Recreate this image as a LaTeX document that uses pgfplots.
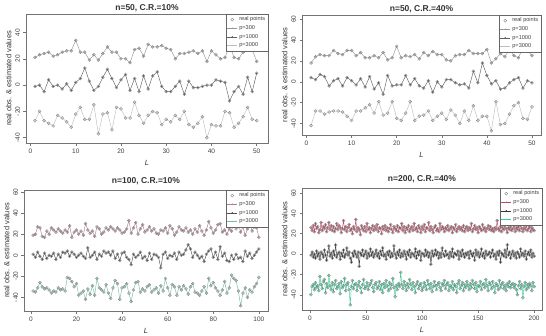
\documentclass[border=0pt]{standalone}
\usepackage{pgfplots}
\usepackage{pgfplotstable}
\pgfplotsset{compat=1.18}
\usepackage{fontspec}
\setmainfont{Liberation Sans}
\definecolor{pt}{RGB}{125,125,125}
\definecolor{gA}{RGB}{150,150,150}
\definecolor{gB}{RGB}{95,95,95}
\definecolor{gC}{RGB}{190,190,190}
\definecolor{cA}{RGB}{175,125,140}
\definecolor{cB}{RGB}{80,80,80}
\definecolor{cC}{RGB}{125,185,160}
\definecolor{dA}{RGB}{195,75,105}
\definecolor{dB}{RGB}{55,55,55}
\definecolor{dC}{RGB}{60,205,150}

% ---------- panel 1: n=50, C.R.=10% ----------
\pgfplotstableread[row sep=\\]{y\\21\\23\\24\\25\\22\\23\\25\\26\\26\\34\\25\\25\\19\\23\\19\\24\\29\\25\\25\\20\\20\\17\\27\\28\\22\\31\\29\\29\\30\\28\\27\\20\\24\\24\\25\\26\\24\\26\\18\\26\\23\\20\\21\\30\\21\\20\\25\\30\\27\\18\\}\pAa
\pgfplotstableread[row sep=\\]{y\\-1\\0\\-5\\4\\-1\\0\\-3\\1\\-4\\2\\5\\13\\3\\-4\\-1\\6\\12\\5\\-2\\4\\8\\-4\\5\\-5\\7\\-3\\7\\10\\-1\\-5\\-5\\-1\\3\\-7\\3\\-2\\-2\\-1\\0\\0\\4\\3\\2\\-12\\-5\\-1\\-7\\6\\-5\\9\\}\pAb
\pgfplotstableread[row sep=\\]{y\\-27\\-20\\-27\\-29\\-31\\-23\\-25\\-28\\-32\\-22\\-17\\-26\\-26\\-15\\-37\\-22\\-21\\-34\\-17\\-18\\-25\\-25\\-13\\-23\\-29\\-23\\-20\\-21\\-30\\-26\\-28\\-23\\-26\\-20\\-30\\-32\\-29\\-24\\-40\\-30\\-31\\-31\\-20\\-21\\-32\\-29\\-24\\-17\\-26\\-27\\}\pAc
% ---------- panel 2: n=50, C.R.=40% ----------
\pgfplotstableread[row sep=\\]{y\\18\\24\\26\\25\\25\\30\\27\\26\\30\\30\\25\\28\\23\\23\\25\\23\\28\\21\\23\\34\\23\\25\\24\\26\\22\\28\\25\\29\\26\\26\\21\\20\\25\\26\\26\\30\\27\\27\\27\\31\\18\\22\\27\\24\\31\\25\\23\\33\\30\\25\\}\pBa
\pgfplotstableread[row sep=\\]{y\\4\\2\\7\\5\\-4\\1\\3\\-4\\4\\1\\-3\\3\\-5\\5\\-7\\-1\\-12\\6\\-4\\-3\\-3\\6\\-3\\3\\-4\\-6\\1\\-10\\0\\-5\\2\\2\\-1\\-3\\-2\\-6\\10\\-1\\18\\6\\-2\\1\\-7\\-6\\-1\\2\\4\\-6\\1\\-1\\}\pBb
\pgfplotstableread[row sep=\\]{y\\-42\\-28\\-28\\-31\\-29\\-28\\-28\\-29\\-33\\-37\\-28\\-28\\-25\\-22\\-30\\-19\\-32\\-30\\-19\\-35\\-37\\-30\\-19\\-37\\-33\\-32\\-28\\-37\\-33\\-30\\-36\\-27\\-32\\-40\\-28\\-37\\-23\\-37\\-33\\-33\\-47\\-19\\-41\\-40\\-31\\-23\\-20\\-35\\-36\\-24\\}\pBc
% ---------- panel 3: n=100, C.R.=10% ----------
\pgfplotstableread[row sep=\\]{y\\19\\20\\27\\26\\18\\17\\23\\20\\26\\24\\22\\25\\23\\21\\24\\22\\28\\17\\22\\24\\20\\23\\19\\30\\24\\21\\23\\18\\27\\25\\20\\22\\26\\24\\27\\25\\23\\26\\24\\21\\22\\25\\33\\21\\26\\31\\20\\25\\29\\22\\24\\27\\23\\25\\21\\20\\24\\23\\26\\21\\28\\25\\19\\22\\27\\24\\23\\26\\22\\24\\20\\25\\22\\28\\23\\19\\24\\32\\26\\21\\24\\29\\30\\22\\24\\20\\25\\23\\31\\25\\30\\22\\27\\19\\25\\31\\23\\27\\26\\17\\}\pCa
\pgfplotstableread[row sep=\\]{y\\1\\-2\\3\\-1\\-4\\2\\-3\\0\\-1\\2\\-4\\1\\-2\\3\\2\\4\\-1\\3\\1\\-2\\0\\2\\-1\\-3\\7\\-2\\0\\3\\-4\\1\\-1\\4\\2\\3\\0\\4\\-3\\1\\-5\\2\\3\\-2\\-4\\-9\\1\\-2\\0\\3\\-3\\-1\\-5\\2\\-4\\1\\0\\-2\\-12\\1\\3\\-3\\0\\-1\\2\\-4\\3\\0\\1\\5\\10\\6\\-2\\3\\0\\-3\\-1\\-6\\1\\4\\6\\-2\\3\\-4\\8\\-1\\2\\-5\\-6\\0\\-4\\1\\-3\\-2\\-6\\4\\-1\\2\\-3\\0\\3\\6\\}\pCb
\pgfplotstableread[row sep=\\]{y\\-34\\-35\\-31\\-26\\-30\\-32\\-31\\-33\\-36\\-34\\-35\\-31\\-33\\-32\\-34\\-21\\-22\\-25\\-30\\-27\\-38\\-36\\-34\\-42\\-32\\-37\\-29\\-38\\-22\\-31\\-33\\-35\\-28\\-36\\-41\\-31\\-24\\-27\\-42\\-31\\-30\\-27\\-36\\-44\\-33\\-26\\-25\\-35\\-32\\-34\\-30\\-28\\-35\\-33\\-31\\-36\\-29\\-34\\-22\\-31\\-38\\-28\\-30\\-38\\-30\\-33\\-29\\-32\\-37\\-30\\-27\\-35\\-36\\-38\\-34\\-30\\-36\\-22\\-29\\-26\\-31\\-34\\-38\\-33\\-25\\-36\\-31\\-19\\-22\\-24\\-34\\-48\\-36\\-31\\-40\\-33\\-35\\-30\\-27\\-21\\}\pCc
% ---------- panel 4: n=200, C.R.=40% ----------
\pgfplotstableread[row sep=\\]{y\\26\\23\\28\\22\\30\\25\\27\\21\\24\\31\\23\\27\\25\\29\\22\\26\\31\\24\\28\\23\\27\\22\\25\\30\\24\\28\\26\\21\\25\\33\\24\\27\\22\\26\\29\\23\\25\\20\\27\\24\\34\\22\\26\\24\\19\\28\\25\\23\\27\\22\\30\\24\\26\\21\\25\\28\\23\\27\\24\\29\\22\\26\\25\\20\\27\\24\\28\\23\\26\\22\\25\\29\\24\\21\\27\\25\\23\\28\\22\\26\\25\\30\\23\\27\\21\\26\\24\\28\\22\\25\\27\\23\\30\\24\\26\\22\\28\\25\\21\\27\\24\\29\\22\\26\\25\\31\\23\\27\\24\\21\\26\\28\\23\\25\\22\\30\\24\\27\\25\\22\\26\\24\\28\\23\\25\\27\\21\\26\\24\\29\\22\\25\\27\\24\\26\\23\\28\\22\\25\\27\\23\\26\\24\\30\\22\\25\\28\\24\\26\\21\\27\\25\\23\\29\\24\\26\\22\\25\\28\\24\\27\\23\\25\\22\\26\\24\\33\\25\\23\\27\\22\\26\\24\\28\\25\\21\\26\\24\\27\\23\\25\\28\\22\\26\\24\\27\\23\\29\\25\\22\\26\\24\\28\\23\\25\\27\\22\\26\\24\\23\\}\pDa
\pgfplotstableread[row sep=\\]{y\\-1\\2\\-3\\0\\-4\\3\\-2\\1\\-5\\2\\0\\-3\\4\\-1\\-6\\2\\8\\-2\\1\\-4\\3\\-1\\9\\-3\\0\\2\\-5\\1\\-2\\4\\-3\\0\\6\\-1\\2\\-4\\-8\\1\\-2\\3\\0\\-3\\2\\-12\\1\\-1\\4\\-2\\0\\3\\-4\\1\\-2\\5\\-1\\2\\-3\\0\\4\\-2\\1\\-4\\3\\-1\\6\\-2\\0\\-5\\2\\-1\\3\\-3\\1\\-2\\8\\0\\-4\\2\\-1\\4\\-3\\1\\-2\\3\\0\\-5\\2\\-1\\4\\-3\\1\\0\\-2\\5\\-4\\2\\-1\\3\\-6\\1\\0\\-2\\4\\-1\\2\\-3\\1\\-10\\3\\-2\\0\\4\\-1\\2\\-4\\1\\-3\\6\\0\\-2\\3\\-1\\0\\-4\\2\\-2\\5\\-3\\1\\0\\-1\\3\\-5\\2\\-2\\4\\0\\-3\\1\\-1\\2\\-4\\3\\0\\-2\\1\\-6\\4\\-1\\2\\-3\\0\\5\\-2\\1\\-4\\3\\-1\\0\\2\\-3\\1\\4\\-2\\0\\-5\\2\\-1\\3\\-8\\1\\0\\-2\\4\\-3\\9\\-1\\2\\-4\\0\\3\\-2\\1\\-4\\2\\0\\-3\\5\\-1\\1\\-2\\3\\-5\\0\\2\\-1\\4\\-3\\1\\-2\\}\pDb
\pgfplotstableread[row sep=\\]{y\\-40\\-32\\-30\\-35\\-28\\-33\\-31\\-36\\-22\\-30\\-34\\-27\\-25\\-38\\-29\\-33\\-21\\-31\\-35\\-28\\-37\\-30\\-26\\-34\\-32\\-29\\-39\\-27\\-33\\-31\\-24\\-36\\-30\\-28\\-35\\-50\\-32\\-26\\-34\\-30\\-29\\-36\\-31\\-27\\-33\\-38\\-30\\-25\\-34\\-32\\-28\\-35\\-31\\-29\\-26\\-33\\-37\\-30\\-28\\-34\\-32\\-27\\-35\\-30\\-38\\-29\\-33\\-26\\-31\\-36\\-28\\-34\\-30\\-24\\-33\\-42\\-31\\-35\\-29\\-32\\-18\\-30\\-34\\-27\\-31\\-36\\-29\\-33\\-25\\-30\\-35\\-28\\-32\\-38\\-30\\-27\\-34\\-31\\-29\\-36\\-33\\-28\\-31\\-35\\-26\\-30\\-34\\-29\\-37\\-32\\-27\\-31\\-35\\-30\\-28\\-33\\-36\\-29\\-31\\-26\\-34\\-30\\-28\\-36\\-31\\-33\\-27\\-35\\-30\\-32\\-38\\-29\\-26\\-34\\-31\\-28\\-36\\-30\\-33\\-27\\-31\\-35\\-29\\-33\\-26\\-30\\-34\\-28\\-37\\-31\\-32\\-27\\-35\\-30\\-29\\-33\\-25\\-31\\-36\\-28\\-30\\-34\\-27\\-32\\-38\\-29\\-31\\-35\\-26\\-33\\-30\\-28\\-34\\-31\\-36\\-29\\-32\\-27\\-33\\-30\\-29\\-33\\-30\\-35\\-40\\-31\\-27\\-34\\-30\\-43\\-32\\-28\\-35\\-30\\-33\\-29\\-31\\-36\\-28\\-32\\}\pDc

\pgfplotsset{
 rplot/.style={
  scale only axis, anchor=south west,
  axis line style={draw=black!55, line width=0.5pt},
  tick align=outside, tick pos=left, major tick length=2.5pt,
  every tick/.style={black!55, line width=0.5pt},
  /pgf/number format/assume math mode=true,
  ticklabel style={font=\fontsize{6.5}{7}\selectfont, text=black!75},
  yticklabel style={rotate=90, anchor=south},
  title style={font=\bfseries\fontsize{8.5}{9}\selectfont, text=black!80,
    at={(0.5,1)}, anchor=base, yshift=-2.5pt},
  label style={font=\fontsize{7.5}{8}\selectfont, text=black!80},
  xlabel={\textit{L}},
  ylabel={real obs. \& estimated values},
  ylabel style={yshift=-3pt},
  legend style={at={(1,1)}, anchor=north east, draw=black!60,
    font=\fontsize{5.6}{6}\selectfont, inner sep=0.6pt, row sep=-0.8pt,
    text=black!75},
  legend cell align=left,
  legend image code/.code={\draw[mark repeat=2,mark phase=2] plot coordinates {(0cm,0cm) (0.17cm,0cm) (0.34cm,0cm)};},
 },
 pts/.style={only marks, mark=o, mark size=1.5pt, draw=pt, line width=0.35pt},
 est/.style={mark=*, mark size=0.45pt, line width=0.45pt},
}

\begin{document}
\begin{tikzpicture}
\useasboundingbox (0,0) rectangle (546pt,335pt);

% panel 1
\begin{axis}[rplot, at={(26pt,192pt)}, width=242pt, height=129pt,
  xmin=-1, xmax=52.5, ymin=-44, ymax=54,
  xtick={0,10,...,50}, ytick={-40,-20,...,40},
  title={n=50, C.R.=10\%}]
\addplot[pts] table[x expr=\coordindex+1, y=y]{\pAa};
\addlegendentry{real points}
\addplot[pts, forget plot] table[x expr=\coordindex+1, y=y]{\pAb};
\addplot[pts, forget plot] table[x expr=\coordindex+1, y=y]{\pAc};
\addplot[est, color=gA] table[x expr=\coordindex+1, y=y]{\pAa};
\addlegendentry{p=300}
\addplot[est, color=gB] table[x expr=\coordindex+1, y=y]{\pAb};
\addlegendentry{p=1000}
\addplot[est, color=gC] table[x expr=\coordindex+1, y=y]{\pAc};
\addlegendentry{p=3000}
\end{axis}

% panel 2
\begin{axis}[rplot, at={(302pt,200pt)}, width=239pt, height=120pt,
  xmin=-1, xmax=52, ymin=-51, ymax=64,
  xtick={0,10,...,50}, ytick={-40,-20,...,60},
  title={n=50, C.R.=40\%}]
\addplot[pts] table[x expr=\coordindex+1, y=y]{\pBa};
\addlegendentry{real points}
\addplot[pts, forget plot] table[x expr=\coordindex+1, y=y]{\pBb};
\addplot[pts, forget plot] table[x expr=\coordindex+1, y=y]{\pBc};
\addplot[est, color=gA] table[x expr=\coordindex+1, y=y]{\pBa};
\addlegendentry{p=300}
\addplot[est, color=gB] table[x expr=\coordindex+1, y=y]{\pBb};
\addlegendentry{p=1000}
\addplot[est, color=gC] table[x expr=\coordindex+1, y=y]{\pBc};
\addlegendentry{p=3000}
\end{axis}

% panel 3
\begin{axis}[rplot, at={(24pt,24pt)}, width=244pt, height=121pt,
  xmin=-3, xmax=104, ymin=-53, ymax=62,
  xtick={0,20,...,100}, ytick={-40,-20,...,60},
  title style={yshift=3pt},
  title={n=100, C.R.=10\%}]
\addplot[pts] table[x expr=\coordindex+1, y=y]{\pCa};
\addlegendentry{real points}
\addplot[pts, forget plot] table[x expr=\coordindex+1, y=y]{\pCb};
\addplot[pts, forget plot] table[x expr=\coordindex+1, y=y]{\pCc};
\addplot[est, color=cA] table[x expr=\coordindex+1, y=y]{\pCa};
\addlegendentry{p=300}
\addplot[est, color=cB] table[x expr=\coordindex+1, y=y]{\pCb};
\addlegendentry{p=1000}
\addplot[est, color=cC] table[x expr=\coordindex+1, y=y]{\pCc};
\addlegendentry{p=3000}
\end{axis}

% panel 4
\begin{axis}[rplot, at={(302pt,25pt)}, width=240pt, height=122pt,
  xmin=-7, xmax=207, ymin=-55, ymax=65,
  xtick={0,50,...,200}, ytick={-40,-20,...,60},
  title style={yshift=3pt},
  title={n=200, C.R.=40\%}]
\addplot[pts] table[x expr=\coordindex+1, y=y]{\pDa};
\addlegendentry{real points}
\addplot[pts, forget plot] table[x expr=\coordindex+1, y=y]{\pDb};
\addplot[pts, forget plot] table[x expr=\coordindex+1, y=y]{\pDc};
\addplot[est, color=dA] table[x expr=\coordindex+1, y=y]{\pDa};
\addlegendentry{p=300}
\addplot[est, color=dB] table[x expr=\coordindex+1, y=y]{\pDb};
\addlegendentry{p=1000}
\addplot[est, color=dC] table[x expr=\coordindex+1, y=y]{\pDc};
\addlegendentry{p=3000}
\end{axis}
\end{tikzpicture}
\end{document}
